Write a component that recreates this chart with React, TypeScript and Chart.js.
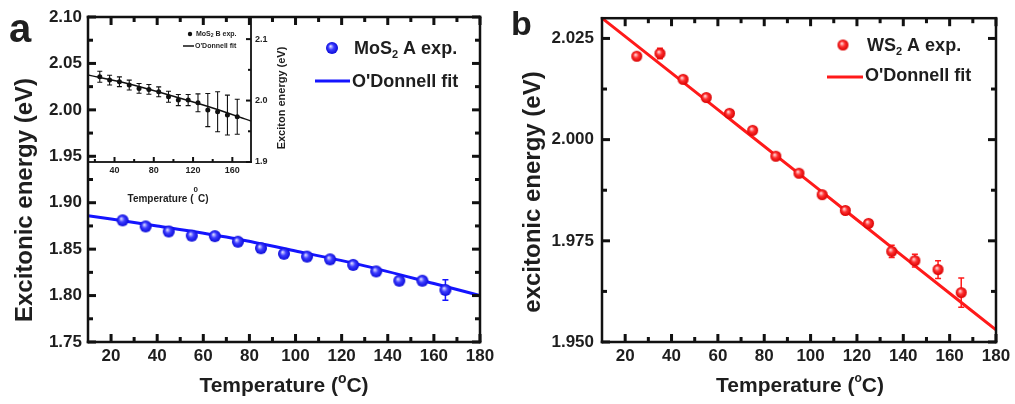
import React, { useEffect, useRef } from "react";
import { Chart, registerables } from "chart.js";
Chart.register(...registerables);

const FONT = '"Liberation Sans", Arial, sans-serif';
const TXT = "#1e1e1e";

// ---------- Panel a: MoS2 A exciton ----------
const A_TEMPS = [25, 35, 45, 55, 65, 75, 85, 95, 105, 115, 125, 135, 145, 155, 165];
const A_ENERGY = [1.881, 1.8745, 1.869, 1.8645, 1.864, 1.858, 1.851, 1.845, 1.842, 1.839, 1.833, 1.826, 1.816, 1.816, 1.806];
const A_ERR = [0.003, 0.003, 0.003, 0.003, 0.003, 0.003, 0.003, 0.003, 0.003, 0.003, 0.003, 0.003, 0.003, 0.003, 0.011];
const A_FIT_T = [10, 40, 70, 100, 130, 160, 180];
const A_FIT_E = [1.886, 1.875, 1.863, 1.848, 1.832, 1.813, 1.8];
const A_X_TICKS = [20, 40, 60, 80, 100, 120, 140, 160, 180];
const A_X_MINOR = [30, 50, 70, 90, 110, 130, 150, 170];
const A_Y_TICKS = [1.75, 1.8, 1.85, 1.9, 1.95, 2.0, 2.05, 2.1];
const A_Y_MINOR = [1.775, 1.825, 1.875, 1.925, 1.975, 2.025, 2.075];

// ---------- Inset: MoS2 B exciton ----------
const IN_TEMPS = [25, 35, 45, 55, 65, 75, 85, 95, 105, 115, 125, 135, 145, 155, 165];
const IN_ENERGY = [2.0387, 2.0333, 2.0306, 2.0252, 2.0198, 2.0182, 2.0143, 2.0062, 2.0008, 2.0008, 1.9964, 1.9846, 1.9818, 1.9764, 1.9737];
const IN_ERR = [0.009, 0.008, 0.008, 0.008, 0.008, 0.008, 0.008, 0.009, 0.009, 0.009, 0.0145, 0.027, 0.0325, 0.0325, 0.0285];
const IN_FIT_T = [13, 60, 100, 140, 179];
const IN_FIT_E = [2.0415, 2.025, 2.007, 1.988, 1.9667];
const IN_X_TICKS = [40, 80, 120, 160];
const IN_X_MINOR = [20, 60, 100, 140];
const IN_Y_TICKS = [1.9, 2.0, 2.1];
const IN_Y_MINOR = [1.95, 2.05];

// ---------- Panel b: WS2 A exciton ----------
const B_TEMPS = [25, 35, 45, 55, 65, 75, 85, 95, 105, 115, 125, 135, 145, 155, 165];
const B_ENERGY = [2.0206, 2.0213, 2.0149, 2.0104, 2.0065, 2.0023, 1.9959, 1.9917, 1.9864, 1.9825, 1.9793, 1.9724, 1.9701, 1.9679, 1.9622];
const B_ERR = [0.0008, 0.0013, 0.0008, 0.0006, 0.0006, 0.0006, 0.0006, 0.0006, 0.0006, 0.0006, 0.0008, 0.0015, 0.0016, 0.0022, 0.0036];
const B_FIT_T = [10, 60, 100, 140, 180];
const B_FIT_E = [2.03, 2.0074, 1.9893, 1.9711, 1.953];
const B_X_TICKS = [20, 40, 60, 80, 100, 120, 140, 160, 180];
const B_X_MINOR = [30, 50, 70, 90, 110, 130, 150, 170];
const B_Y_TICKS = [1.95, 1.975, 2.0, 2.025];
const B_Y_MINOR = [1.9625, 1.9875, 2.0125];

const SERIES_A = "MoS₂ A exp.";
const SERIES_B = "WS₂ A exp.";
const SERIES_IN = "MoS₂ B exp.";
const FIT_LABEL = "O'Donnell fit";

function sphere(r: number, c: [string, string, string]) {
  const cv = document.createElement("canvas");
  const s = Math.ceil(r * 2) + 2;
  cv.width = s;
  cv.height = s;
  const ctx = cv.getContext("2d")!;
  const cx = s / 2, cy = s / 2;
  const g = ctx.createRadialGradient(cx - r * 0.25, cy - r * 0.3, r * 0.05, cx, cy, r);
  g.addColorStop(0, c[0]);
  g.addColorStop(0.45, c[1]);
  g.addColorStop(1, c[2]);
  ctx.fillStyle = g;
  ctx.beginPath();
  ctx.arc(cx, cy, r, 0, Math.PI * 2);
  ctx.fill();
  return cv;
}

type FrameCfg = {
  left: boolean; right: boolean; top: boolean; bottom: boolean;
  lineWidth: number; tickWidth: number; major: number; minor: number; tickColor: string;
  xMajor: number[]; xMinor: number[]; yMajor: number[]; yMinor: number[];
};

function framePlugin(id: string, cfg: FrameCfg) {
  return {
    id,
    afterDraw(chart: any) {
      const ctx = chart.ctx;
      const a = chart.chartArea;
      const xs = chart.scales.x;
      const ys = chart.scales.y;
      ctx.save();
      ctx.fillStyle = "#111";
      const lw = cfg.lineWidth, h = lw / 2;
      if (cfg.left) ctx.fillRect(a.left - h, a.top - h, lw, a.bottom - a.top + lw);
      if (cfg.right) ctx.fillRect(a.right - h, a.top - h, lw, a.bottom - a.top + lw);
      if (cfg.top) ctx.fillRect(a.left - h, a.top - h, a.right - a.left + lw, lw);
      if (cfg.bottom) ctx.fillRect(a.left - h, a.bottom - h, a.right - a.left + lw, lw);
      ctx.fillStyle = cfg.tickColor;
      const tw = cfg.tickWidth;
      const xList = [[cfg.xMajor, cfg.major], [cfg.xMinor, cfg.minor]] as [number[], number][];
      for (const [vals, len] of xList) {
        for (const v of vals) {
          const p = xs.getPixelForValue(v);
          if (cfg.bottom) ctx.fillRect(p - tw / 2, a.bottom - len, tw, len);
          if (cfg.top) ctx.fillRect(p - tw / 2, a.top, tw, len);
        }
      }
      const yList = [[cfg.yMajor, cfg.major], [cfg.yMinor, cfg.minor]] as [number[], number][];
      for (const [vals, len] of yList) {
        for (const v of vals) {
          const p = ys.getPixelForValue(v);
          if (cfg.left) ctx.fillRect(a.left, p - tw / 2, len, tw);
          if (cfg.right) ctx.fillRect(a.right - len, p - tw / 2, len, tw);
        }
      }
      ctx.restore();
    },
  };
}

function errorPlugin(id: string, cfg: { xs: number[]; ys: number[]; errs: number[]; color: string; width: number; cap: number }) {
  return {
    id,
    beforeDatasetsDraw(chart: any) {
      const { ctx } = chart;
      const xs = chart.scales.x, ys = chart.scales.y;
      ctx.save();
      ctx.strokeStyle = cfg.color;
      ctx.lineWidth = cfg.width;
      ctx.beginPath();
      cfg.xs.forEach((t, i) => {
        const px = xs.getPixelForValue(t);
        const y1 = ys.getPixelForValue(cfg.ys[i] + cfg.errs[i]);
        const y2 = ys.getPixelForValue(cfg.ys[i] - cfg.errs[i]);
        ctx.moveTo(px, y1); ctx.lineTo(px, y2);
        ctx.moveTo(px - cfg.cap, y1); ctx.lineTo(px + cfg.cap, y1);
        ctx.moveTo(px - cfg.cap, y2); ctx.lineTo(px + cfg.cap, y2);
      });
      ctx.stroke();
      ctx.restore();
    },
  };
}

type Part = { t: string; size: number; dy?: number };
function drawParts(ctx: CanvasRenderingContext2D, parts: Part[], x: number, y: number, align: "left" | "center") {
  ctx.textBaseline = "middle";
  ctx.textAlign = "left";
  ctx.fillStyle = TXT;
  let total = 0;
  const widths = parts.map((p) => {
    ctx.font = `bold ${p.size}px ${FONT}`;
    const w = ctx.measureText(p.t).width;
    total += w;
    return w;
  });
  let cx = align === "center" ? x - total / 2 : x;
  parts.forEach((p, i) => {
    ctx.font = `bold ${p.size}px ${FONT}`;
    ctx.fillText(p.t, cx, y + (p.dy || 0));
    cx += widths[i];
  });
}
function labelParts(label: string, size: number, sub: number, dy: number): Part[] {
  const idx = label.indexOf("₂");
  if (idx < 0) return [{ t: label, size }];
  return [
    { t: label.slice(0, idx), size },
    { t: "2", size: sub, dy },
    { t: label.slice(idx + 1), size },
  ];
}
function rotText(ctx: CanvasRenderingContext2D, text: string, x: number, y: number, size: number) {
  ctx.save();
  ctx.translate(x, y);
  ctx.rotate(-Math.PI / 2);
  ctx.font = `bold ${size}px ${FONT}`;
  ctx.fillStyle = TXT;
  ctx.textAlign = "center";
  ctx.textBaseline = "middle";
  ctx.fillText(text, 0, 0);
  ctx.restore();
}

function fixedAxes(xH: number, yW: number, xTicks: number[], yTicks: number[], xr: [number, number], yr: [number, number], fs: number, yDec: number, yPad: number, xPad: number, yPos: "left" | "right") {
  return {
    x: {
      type: "linear", min: xr[0], max: xr[1],
      grid: { display: false, drawTicks: false }, border: { display: false },
      ticks: { font: { family: FONT, size: fs, weight: "bold" }, color: TXT, padding: xPad, maxRotation: 0, autoSkip: false, callback: (v: any) => String(v) },
      afterBuildTicks: (s: any) => { s.ticks = xTicks.map((v) => ({ value: v })); },
      afterFit: (s: any) => { s.height = xH; },
    },
    y: {
      type: "linear", position: yPos, min: yr[0], max: yr[1],
      grid: { display: false, drawTicks: false }, border: { display: false },
      ticks: { font: { family: FONT, size: fs, weight: "bold" }, color: TXT, padding: yPad, autoSkip: false, callback: (v: any) => Number(v).toFixed(yDec) },
      afterBuildTicks: (s: any) => { s.ticks = yTicks.map((v) => ({ value: v })); },
      afterFit: (s: any) => { s.width = yW; },
    },
  };
}

export default function App() {
  const aRef = useRef<HTMLCanvasElement>(null);
  const inRef = useRef<HTMLCanvasElement>(null);
  const bRef = useRef<HTMLCanvasElement>(null);

  useEffect(() => {
    const blue = sphere(6, ["#dcdcff", "#3c3cff", "#0a0ad8"]);
    const red = sphere(5.5, ["#ffe0e0", "#ff3030", "#d80000"]);
    const base = { responsive: false, animation: false, events: [] as any[] };

    const chartA = new Chart(aRef.current!, {
      type: "scatter",
      data: {
        datasets: [
          { label: FIT_LABEL, data: A_FIT_T.map((t, i) => ({ x: t, y: A_FIT_E[i] })), showLine: true, borderColor: "#1414ff", borderWidth: 3, pointRadius: 0, cubicInterpolationMode: "monotone", order: 2 } as any,
          { label: SERIES_A, data: A_TEMPS.map((t, i) => ({ x: t, y: A_ENERGY[i] })), pointStyle: blue, pointRadius: 6, backgroundColor: "#2020ff", borderColor: "#2020ff", order: 1 } as any,
        ],
      },
      options: {
        ...base,
        layout: { padding: { left: 0, top: 17, right: 25, bottom: 0 } },
        plugins: { legend: { display: false }, tooltip: { enabled: false } },
        scales: fixedAxes(62, 88, A_X_TICKS, A_Y_TICKS, [10, 180], [1.75, 2.1], 17, 2, 6, 4, "left") as any,
      },
      plugins: [
        errorPlugin("errA", { xs: A_TEMPS, ys: A_ENERGY, errs: A_ERR, color: "#1414ff", width: 1.5, cap: 3 }),
        framePlugin("frameA", { left: true, right: true, top: true, bottom: true, lineWidth: 2.5, tickWidth: 3, major: 8, minor: 5, tickColor: "#111", xMajor: A_X_TICKS, xMinor: A_X_MINOR, yMajor: A_Y_TICKS, yMinor: A_Y_MINOR }),
        {
          id: "textA",
          afterDraw(chart: any) {
            const ctx = chart.ctx as CanvasRenderingContext2D;
            const ds = chart.data.datasets;
            ctx.save();
            drawParts(ctx, [{ t: "a", size: 40 }], 9, 31, "left");
            rotText(ctx, "Excitonic energy (eV)", 25, 200, 24);
            drawParts(ctx, [{ t: "Temperature (", size: 21 }, { t: "o", size: 14, dy: -7 }, { t: "C)", size: 21 }], 284, 386, "center");
            ctx.drawImage(blue, 332 - blue.width / 2, 48 - blue.height / 2);
            drawParts(ctx, labelParts(ds[1].label, 18, 11, 6), 354, 49, "left");
            ctx.strokeStyle = "#1414ff";
            ctx.lineWidth = 3;
            ctx.beginPath(); ctx.moveTo(315, 81); ctx.lineTo(350, 81); ctx.stroke();
            drawParts(ctx, [{ t: ds[0].label, size: 18 }], 352, 82, "left");
            ctx.restore();
          },
        },
      ],
    });

    const chartIn = new Chart(inRef.current!, {
      type: "scatter",
      data: {
        datasets: [
          { label: FIT_LABEL, data: IN_FIT_T.map((t, i) => ({ x: t, y: IN_FIT_E[i] })), showLine: true, borderColor: "#111", borderWidth: 1.5, pointRadius: 0, cubicInterpolationMode: "monotone", order: 2 } as any,
          { label: SERIES_IN, data: IN_TEMPS.map((t, i) => ({ x: t, y: IN_ENERGY[i] })), pointStyle: "circle", pointRadius: 2.5, backgroundColor: "#111", borderColor: "#111", borderWidth: 0, order: 1 } as any,
        ],
      },
      options: {
        ...base,
        layout: { padding: { left: 88, top: 17, right: 0, bottom: 0 } },
        plugins: { legend: { display: false }, tooltip: { enabled: false } },
        scales: fixedAxes(53, 49, IN_X_TICKS, IN_Y_TICKS, [13, 179], [1.9, 2.136], 9, 1, 4, 3, "right") as any,
      },
      plugins: [
        errorPlugin("errIn", { xs: IN_TEMPS, ys: IN_ENERGY, errs: IN_ERR, color: "#111", width: 1.1, cap: 2.5 }),
        framePlugin("frameIn", { left: false, right: true, top: false, bottom: true, lineWidth: 1.8, tickWidth: 2, major: 5, minor: 3, tickColor: "#111", xMajor: IN_X_TICKS, xMinor: IN_X_MINOR, yMajor: IN_Y_TICKS, yMinor: IN_Y_MINOR }),
        {
          id: "textIn",
          afterDraw(chart: any) {
            const ctx = chart.ctx as CanvasRenderingContext2D;
            const ds = chart.data.datasets;
            ctx.save();
            drawParts(ctx, [{ t: "Temperature (", size: 10 }, { t: "0", size: 8, dy: -9 }, { t: "C)", size: 10 }], 168, 199, "center");
            rotText(ctx, "Exciton energy (eV)", 282, 98, 11);
            ctx.fillStyle = "#111";
            ctx.beginPath(); ctx.arc(190, 34, 2.2, 0, Math.PI * 2); ctx.fill();
            drawParts(ctx, labelParts(ds[1].label, 7, 5, 2), 196, 34, "left");
            ctx.strokeStyle = "#111";
            ctx.lineWidth = 1.5;
            ctx.beginPath(); ctx.moveTo(183, 46); ctx.lineTo(194, 46); ctx.stroke();
            drawParts(ctx, [{ t: ds[0].label, size: 7 }], 195, 46, "left");
            ctx.restore();
          },
        },
      ],
    });

    const chartB = new Chart(bRef.current!, {
      type: "scatter",
      data: {
        datasets: [
          { label: FIT_LABEL, data: B_FIT_T.map((t, i) => ({ x: t, y: B_FIT_E[i] })), showLine: true, borderColor: "#ff1a1a", borderWidth: 3, pointRadius: 0, cubicInterpolationMode: "monotone", order: 2 } as any,
          { label: SERIES_B, data: B_TEMPS.map((t, i) => ({ x: t, y: B_ENERGY[i] })), pointStyle: red, pointRadius: 5.5, backgroundColor: "#ff2020", borderColor: "#ff2020", order: 1 } as any,
        ],
      },
      options: {
        ...base,
        layout: { padding: { left: 0, top: 18, right: 19, bottom: 0 } },
        plugins: { legend: { display: false }, tooltip: { enabled: false } },
        scales: fixedAxes(62, 97, B_X_TICKS, B_Y_TICKS, [10, 180], [1.95, 2.03], 17, 3, 8, 4, "left") as any,
      },
      plugins: [
        errorPlugin("errB", { xs: B_TEMPS, ys: B_ENERGY, errs: B_ERR, color: "#ff1a1a", width: 1.5, cap: 3 }),
        framePlugin("frameB", { left: true, right: true, top: true, bottom: true, lineWidth: 2.5, tickWidth: 3, major: 8, minor: 5, tickColor: "#111", xMajor: B_X_TICKS, xMinor: B_X_MINOR, yMajor: B_Y_TICKS, yMinor: B_Y_MINOR }),
        {
          id: "textB",
          afterDraw(chart: any) {
            const ctx = chart.ctx as CanvasRenderingContext2D;
            const ds = chart.data.datasets;
            ctx.save();
            drawParts(ctx, [{ t: "b", size: 34 }], 6, 26, "left");
            rotText(ctx, "excitonic energy (eV)", 28, 192, 24);
            drawParts(ctx, [{ t: "Temperature (", size: 21 }, { t: "o", size: 12, dy: -7 }, { t: "C)", size: 21 }], 295, 386, "center");
            ctx.drawImage(red, 338 - red.width / 2, 45 - red.height / 2);
            drawParts(ctx, labelParts(ds[1].label, 18, 11, 6), 362, 46, "left");
            ctx.strokeStyle = "#ff1a1a";
            ctx.lineWidth = 3;
            ctx.beginPath(); ctx.moveTo(322, 77); ctx.lineTo(358, 77); ctx.stroke();
            drawParts(ctx, [{ t: ds[0].label, size: 18 }], 360, 76, "left");
            ctx.restore();
          },
        },
      ],
    });

    return () => {
      chartA.destroy();
      chartIn.destroy();
      chartB.destroy();
    };
  }, []);

  return (
    <div style={{ position: "absolute", left: 0, top: 0, width: 1015, height: 404, background: "#fff", overflow: "hidden" }}>
      <canvas ref={aRef} width={505} height={404} style={{ position: "absolute", left: 0, top: 0 }} />
      <canvas ref={inRef} width={300} height={215} style={{ position: "absolute", left: 0, top: 0 }} />
      <canvas ref={bRef} width={510} height={404} style={{ position: "absolute", left: 505, top: 0 }} />
    </div>
  );
}
